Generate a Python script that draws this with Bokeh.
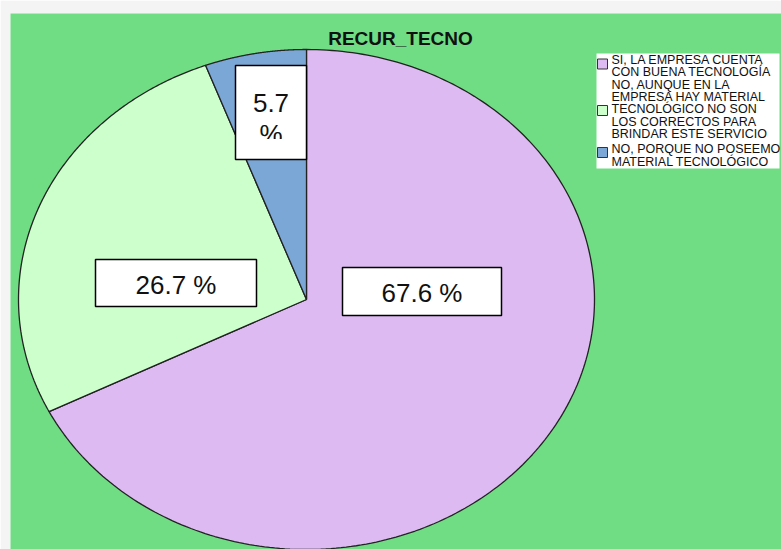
import numpy as np
from bokeh.plotting import figure
from bokeh.models import Range1d
from bokeh.core.properties import value
from bokeh.embed import file_html
from bokeh.resources import INLINE

# ---- data ----
title_text = "RECUR_TECNO"
categories = [
    "SI, LA EMPRESA CUENTA\nCON BUENA TECNOLOGÍA",
    "NO, AUNQUE EN LA\nEMPRESA HAY MATERIAL\nTECNOLÓGICO NO SON\nLOS CORRECTOS PARA\nBRINDAR ESTE SERVICIO",
    "NO, PORQUE NO POSEEMO\nMATERIAL TECNOLÓGICO",
]
percentages = [67.6, 26.7, 5.7]
slice_colors = ["#DDBAF2", "#CCFFCC", "#7BA7D6"]
value_labels = ["67.6 %", "26.7 %", "5.7\n%"]

# ---- geometry (pixel-like data space) ----
X0, X1, Y0, Y1 = 10, 781, 13, 549
cx, cy, rx, ry = 306, 299, 288, 250

p = figure(width=781, height=549, output_backend="svg", toolbar_location=None,
           x_range=Range1d(X0, X1), y_range=Range1d(Y1, Y0),
           min_border_left=10, min_border_right=0, min_border_top=13, min_border_bottom=0)
p.axis.visible = False
p.grid.visible = False
p.outline_line_color = None
p.background_fill_color = "#70DD84"
p.border_fill_color = "#F4F4F4"

total = sum(percentages)
xs, ys = [], []
start = 90.0
for v in percentages:
    sweep = v / total * 360.0
    t = np.radians(np.linspace(start, start - sweep, 240))
    xs.append([cx] + list(cx + rx * np.cos(t)) + [cx])
    ys.append([cy] + list(cy - ry * np.sin(t)) + [cy])
    start -= sweep
p.patches(xs, ys, fill_color=slice_colors, line_color="#222222", line_width=1.3)

# value label boxes
box_l = [342, 95, 235]
box_r = [501, 256, 306]
box_t = [267, 259, 65]
box_b = [315, 306, 159]
p.quad(left=box_l, right=box_r, top=box_t, bottom=box_b,
       fill_color="white", line_color="black", line_width=1.5)
tx = [421.5, 175.5, 270.5]
ty = [292, 284, 118]
p.text(x=tx, y=ty, text=value_labels, text_font=value("Liberation Sans"),
       text_font_size="26px", text_align="center", text_baseline="middle",
       text_color="#111111", text_line_height=1.05)
# clip of the small label (the % is cut in the reference)
p.quad(left=[236.5], right=[304.5], top=[138.5], bottom=[157.5], fill_color="white", line_color=None)

# title
p.text(x=[400], y=[37.5], text=[title_text], text_font=value("Liberation Sans"),
       text_font_size="19px", text_font_style="bold", text_align="center",
       text_baseline="middle", text_color="#111111")

# legend
p.quad(left=[596], right=[779], top=[53], bottom=[168], fill_color="white", line_color=None)
sq_y = [63.5, 110, 152]
p.quad(left=[597] * 3, right=[607] * 3, top=[y - 5 for y in sq_y], bottom=[y + 5 for y in sq_y],
       fill_color=slice_colors, line_color="#333333", line_width=1)
txt_y = [65.5, 109, 155]
p.text(x=[611] * 3, y=txt_y, text=categories, text_font=value("Liberation Sans"),
       text_font_size="12.5px", text_align="left", text_baseline="middle",
       text_color="#111111", text_line_height=0.86)

open("out.html", "w").write(file_html(p, INLINE))
